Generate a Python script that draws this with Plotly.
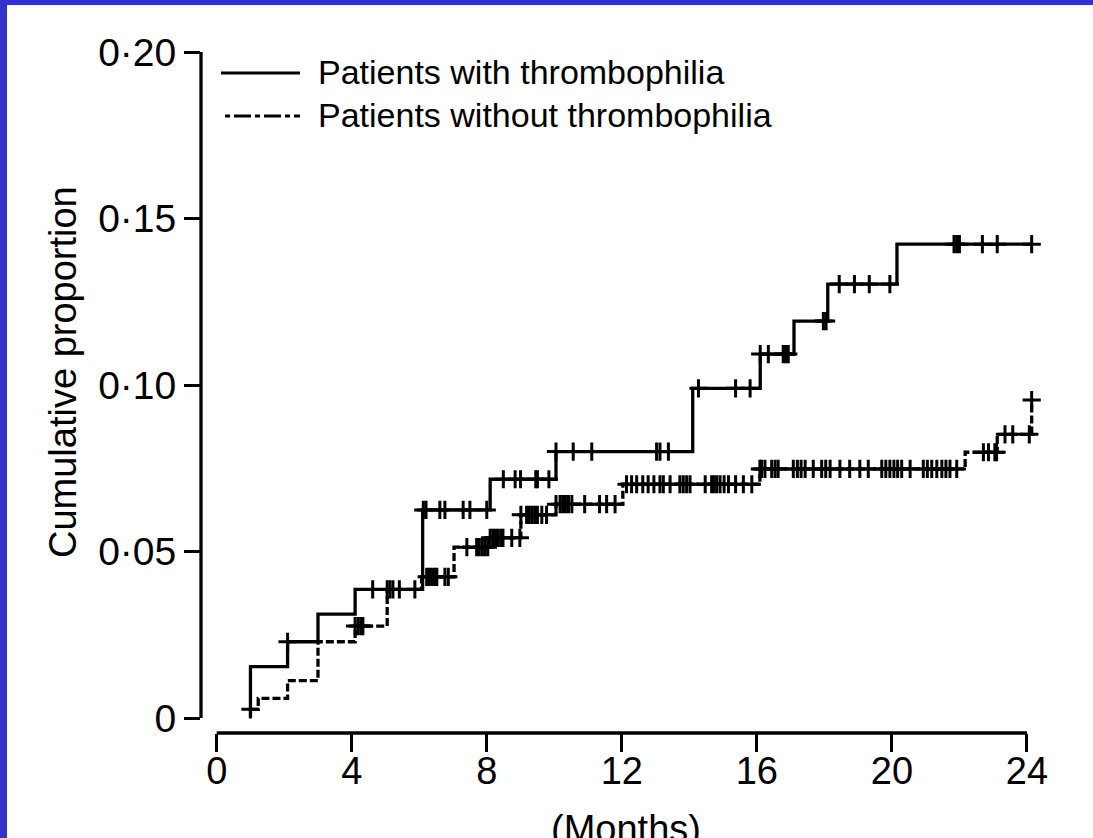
import plotly.graph_objects as go

# ---------------- data ----------------
# Kaplan-Meier style step curves: event times (months) and cumulative proportion
with_x = [1.0, 1.0, 2.1, 3.0, 4.1, 6.1, 8.1, 10.05, 14.1, 16.1, 17.1, 18.1, 20.15, 24.14]
with_y = [0.0, 0.0154, 0.0229, 0.0312, 0.0386, 0.0625, 0.0717, 0.0800, 0.0990,
          0.1093, 0.1192, 0.1303, 0.1423, 0.1423]

without_x = [1.0, 1.23, 2.1, 3.0, 4.1, 5.05, 6.07, 7.03, 8.05, 9.01, 10.05, 12.03,
             16.09, 22.17, 23.12, 24.14]
without_y = [0.0026, 0.0059, 0.0112, 0.0229, 0.0276, 0.0386, 0.0424, 0.0513, 0.0541,
             0.0610, 0.0642, 0.0702, 0.0748, 0.0798, 0.0852, 0.0955]

# censored observations (months)
with_cens = [2.1, 4.62, 5.41, 5.87, 6.12, 6.2, 6.61, 6.76, 7.3, 7.5, 8.0, 8.49, 8.84,
             9.0, 9.45, 9.5, 9.84, 10.05, 10.56, 11.11, 13.03, 13.13, 13.38, 14.27,
             15.37, 15.8, 16.1, 16.34, 16.78, 16.85, 16.93, 17.97, 18.05, 18.44,
             18.89, 19.33, 19.94, 21.84, 21.92, 22.0, 22.68, 23.12, 24.14]
without_cens = [1.0, 4.1, 4.19, 4.27, 4.33, 5.05, 5.13, 5.22, 6.22, 6.3, 6.37, 6.45,
                6.52, 6.76, 6.86, 7.41, 7.7, 7.78, 7.87, 7.95, 8.03, 8.1, 8.18, 8.26,
                8.34, 8.42, 8.48, 8.74, 8.98, 9.01, 9.18, 9.26, 9.34, 9.42, 9.5, 9.63,
                9.77, 10.05, 10.17, 10.25, 10.33, 10.42, 10.52, 10.9, 11.34, 11.55,
                11.8, 12.14, 12.29, 12.44, 12.62, 12.78, 12.95, 13.13, 13.23, 13.43,
                13.72, 13.82, 13.92, 14.02, 14.47, 14.66, 14.73, 14.81, 14.91, 15.03,
                15.16, 15.37, 15.6, 15.85, 16.09, 16.14, 16.24, 16.44, 16.54, 16.63,
                17.08, 17.2, 17.31, 17.43, 17.67, 17.92, 18.04, 18.17, 18.46, 18.75,
                19.05, 19.3, 19.7, 19.82, 19.94, 20.06, 20.17, 20.29, 20.54, 20.93,
                21.05, 21.18, 21.33, 21.48, 21.6, 21.72, 21.92, 22.71, 22.86, 23.05,
                23.1, 23.35, 23.58, 24.07, 24.14]

x_ticks = [0, 4, 8, 12, 16, 20, 24]
y_ticks = [0, 0.05, 0.10, 0.15, 0.20]
y_ticktext = ["0", "0·05", "0·10", "0·15", "0·20"]
series_names = ["Patients with thrombophilia", "Patients without thrombophilia"]
x_title = "(Months)"
y_title = "Cumulative proportion"


def level_at(t, xs, ys):
    lvl = ys[0]
    for xx, yy in zip(xs, ys):
        if t >= xx - 1e-9:
            lvl = yy
    return lvl


with_cens_y = [level_at(t, with_x, with_y) for t in with_cens]
without_cens_y = [level_at(t, without_x, without_y) for t in without_cens]

# ---------------- layout geometry ----------------
W, H = 1093, 838
L, R, T, B = 201, 1048, 52, 733
PW, PH = R - L, B - T


def px(x):
    return (x - L) / PW


def py(y):
    return (B - y) / PH


FONT = "Liberation Sans, Arial, Helvetica, sans-serif"
BLUE = "#3333cc"
LW = 3.3

fig = go.Figure()

fig.add_trace(go.Scatter(x=without_x, y=without_y, mode="lines", line_shape="hv",
                         line=dict(color="black", width=LW, dash="8px,3px"),
                         name=series_names[1], showlegend=False))
fig.add_trace(go.Scatter(x=with_x, y=with_y, mode="lines", line_shape="hv",
                         line=dict(color="black", width=LW),
                         name=series_names[0], showlegend=False))
fig.add_trace(go.Scatter(x=without_cens, y=without_cens_y, mode="markers",
                         marker=dict(symbol="cross-thin", size=13, color="black",
                                     line=dict(color="black", width=3)),
                         showlegend=False, cliponaxis=False))
fig.add_trace(go.Scatter(x=with_cens, y=with_cens_y, mode="markers",
                         marker=dict(symbol="cross-thin", size=13, color="black",
                                     line=dict(color="black", width=3)),
                         showlegend=False, cliponaxis=False))

shapes = [
    # blue slide border (left and top)
    dict(type="rect", xref="paper", yref="paper", x0=px(-20), x1=px(7),
         y0=py(H + 20), y1=py(-20), fillcolor=BLUE, line=dict(width=0), layer="below"),
    dict(type="rect", xref="paper", yref="paper", x0=px(-20), x1=px(W + 20),
         y0=py(5), y1=py(-20), fillcolor=BLUE, line=dict(width=0), layer="below"),
    # detached axis lines
    dict(type="line", xref="paper", yref="y", x0=0, x1=0, y0=0, y1=0.20,
         line=dict(color="black", width=LW)),
    dict(type="line", xref="x", yref="paper", x0=0, x1=24, y0=0, y1=0,
         line=dict(color="black", width=LW)),
    # legend samples
    dict(type="line", xref="paper", yref="paper", x0=px(221), x1=px(300),
         y0=py(73), y1=py(73), line=dict(color="black", width=3)),
    dict(type="line", xref="paper", yref="paper", x0=px(225), x1=px(300),
         y0=py(116), y1=py(116), line=dict(color="black", width=3, dash="5px,4px,17px,4px")),
]

annotations = [
    dict(text=series_names[0], xref="paper", yref="paper", x=px(316), y=py(72),
         xanchor="left", yanchor="middle", showarrow=False,
         font=dict(family=FONT, size=34, color="black")),
    dict(text=series_names[1], xref="paper", yref="paper", x=px(316), y=py(115),
         xanchor="left", yanchor="middle", showarrow=False,
         font=dict(family=FONT, size=34, color="black")),
    dict(text=y_title, xref="paper", yref="paper", x=px(63), y=py(372),
         xanchor="center", yanchor="middle", textangle=-90, showarrow=False,
         font=dict(family=FONT, size=38, color="black")),
    dict(text=x_title, xref="paper", yref="paper", x=px(626), y=py(806),
         xanchor="center", yanchor="top", showarrow=False,
         font=dict(family=FONT, size=38, color="black")),
]

fig.update_layout(
    width=W, height=H,
    margin=dict(l=L, r=W - R, t=T, b=H - B, pad=0),
    paper_bgcolor="white", plot_bgcolor="white",
    showlegend=False,
    shapes=shapes, annotations=annotations,
    xaxis=dict(range=[(L - 216.7) / 33.76, (R - 216.7) / 33.76],
               tickvals=x_ticks, ticktext=[str(v) for v in x_ticks],
               ticks="outside", ticklen=18, tickwidth=3, tickcolor="black",
               ticklabelstandoff=-14,
               showline=False, showgrid=False, zeroline=False,
               tickfont=dict(family=FONT, size=38, color="black")),
    yaxis=dict(range=[-(733 - 718) / 3330, 0.20],
               tickvals=y_ticks, ticktext=y_ticktext,
               ticks="outside", ticklen=16, tickwidth=3, tickcolor="black",
               showline=False, showgrid=False, zeroline=False,
               tickfont=dict(family=FONT, size=39, color="black")),
)

fig.write_html(
    "out.html", config={"displayModeBar": False, "staticPlot": True},
    post_script=("document.body.style.margin='0';document.body.style.overflow='hidden';"
                 "document.documentElement.style.overflow='hidden';"
                 "document.body.style.background='white';"))
